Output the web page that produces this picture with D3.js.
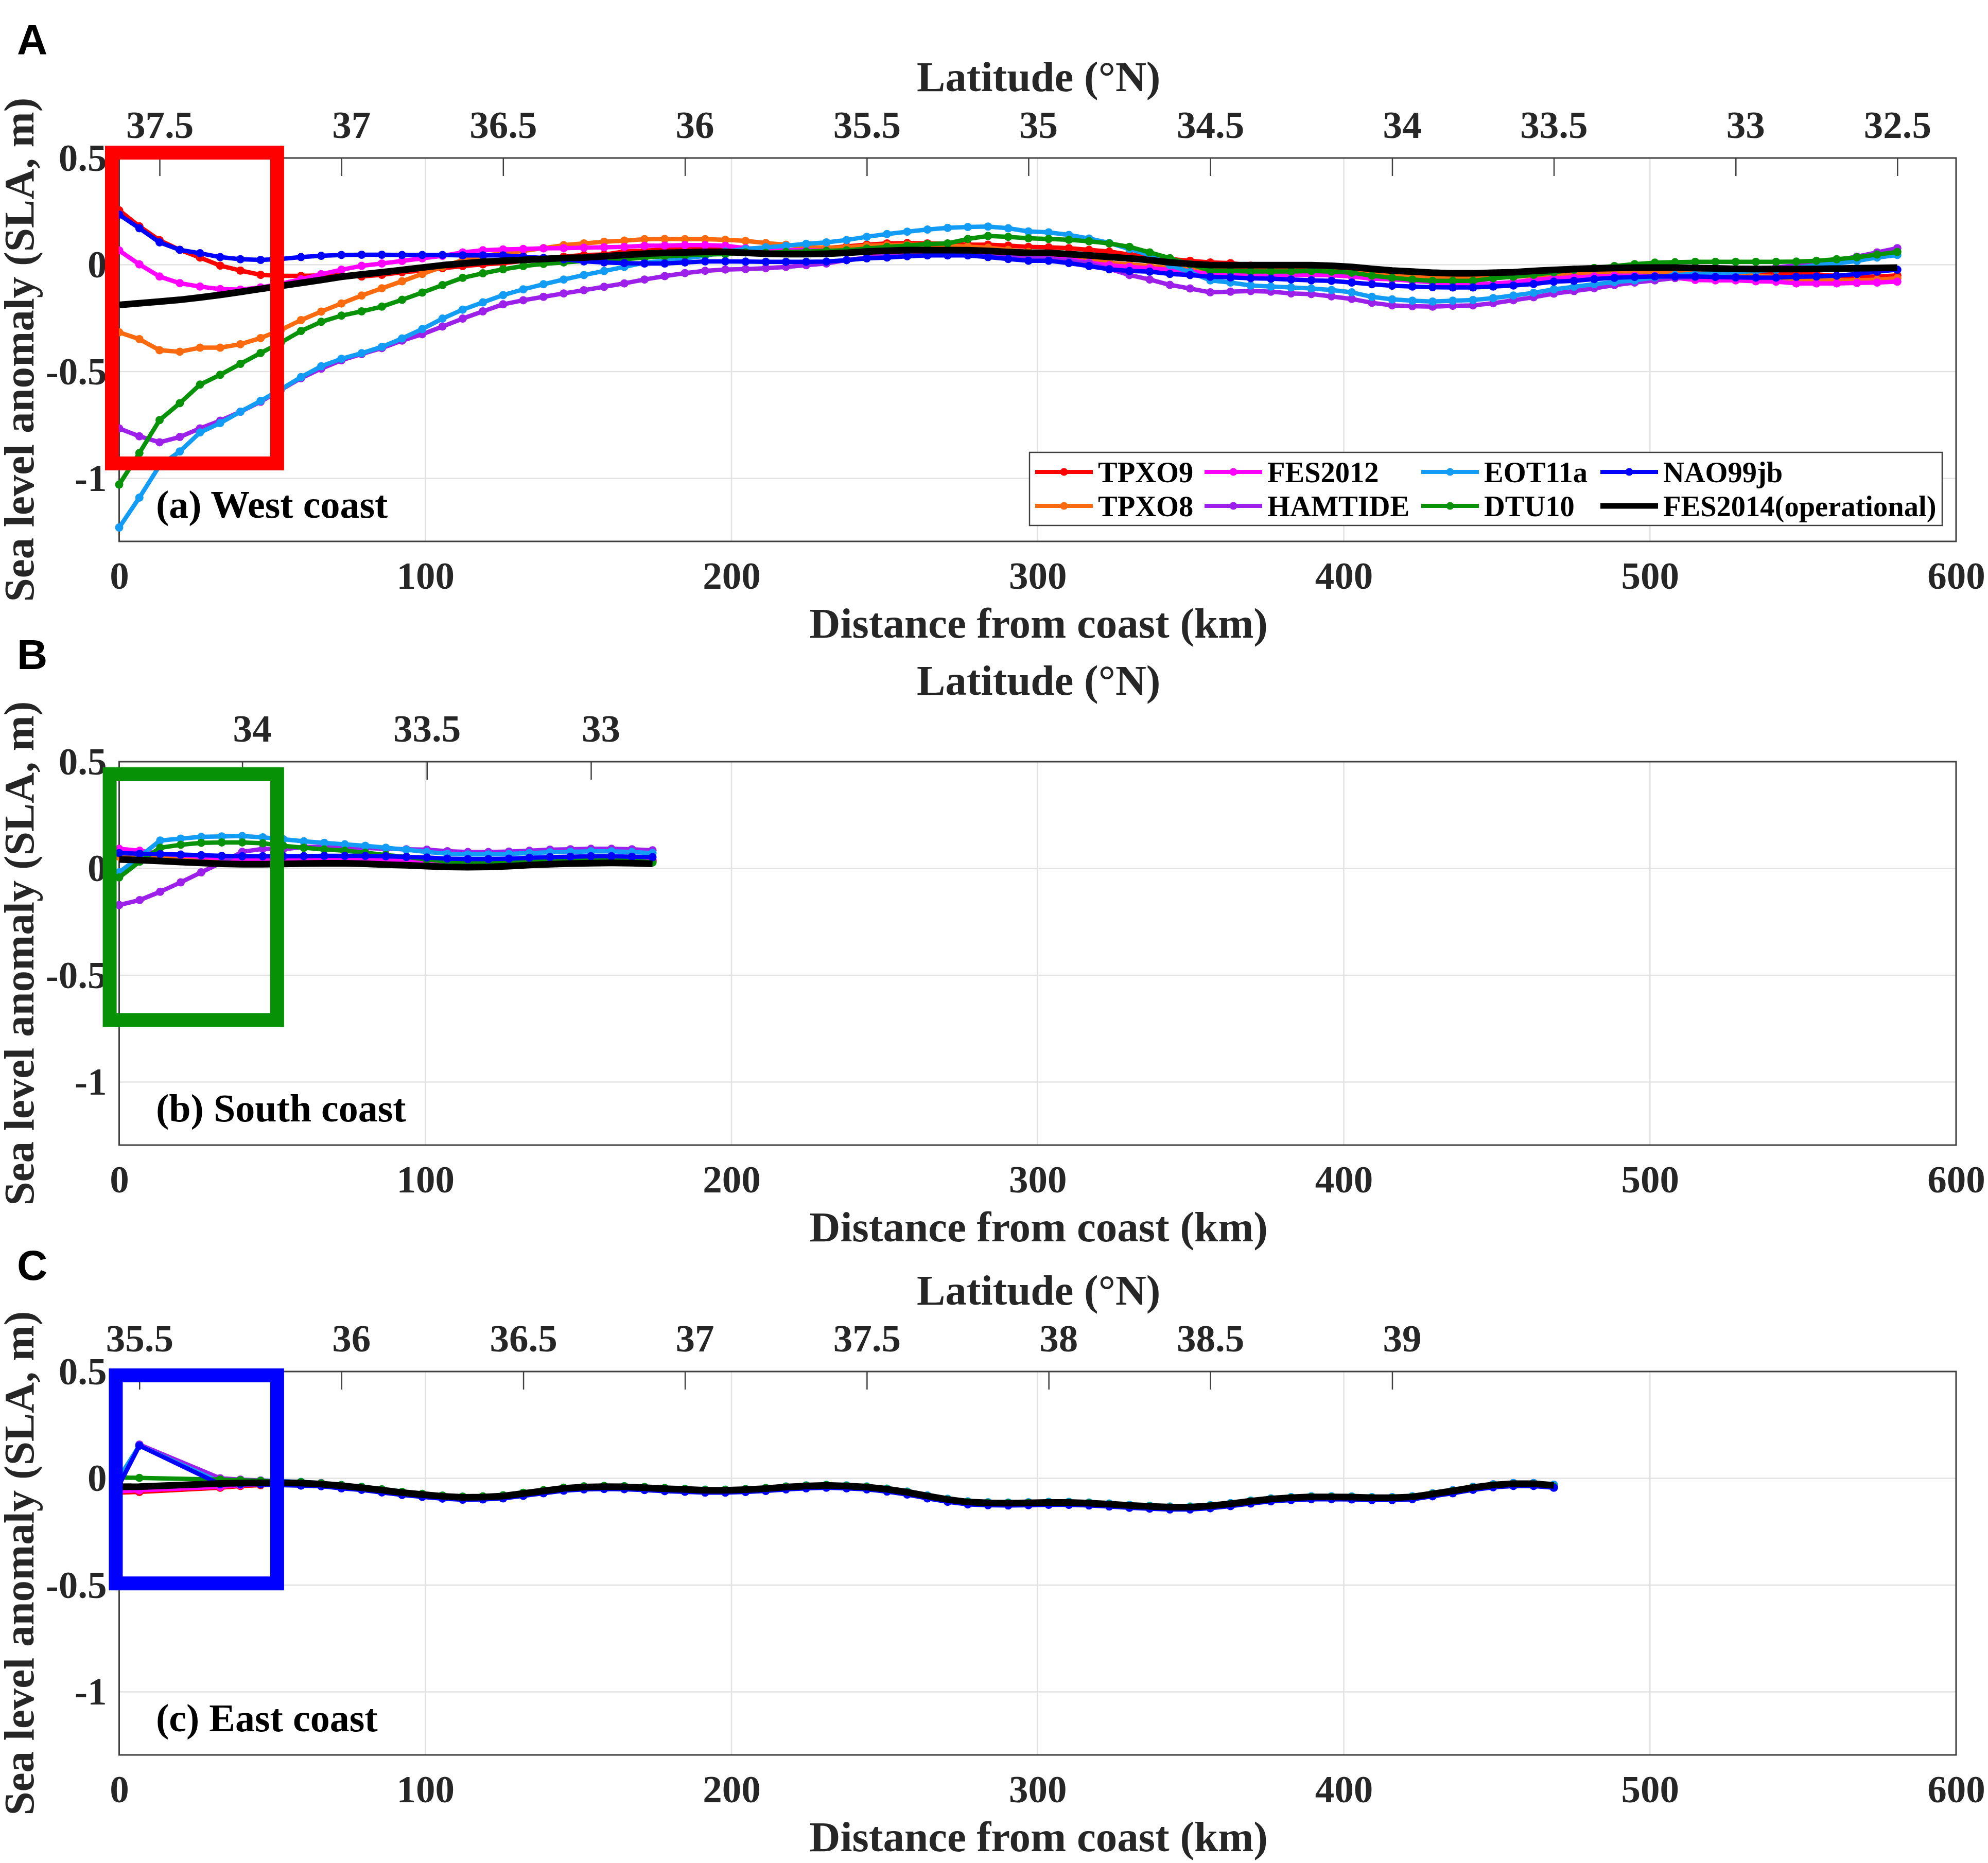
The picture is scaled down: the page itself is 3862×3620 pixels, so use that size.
<!DOCTYPE html>
<html>
<head>
<meta charset="utf-8">
<script src="https://cdn.jsdelivr.net/npm/d3@7"></script>
<style>
  body { margin: 0; background: #fff; }
  text { font-family: "Liberation Serif", serif; font-weight: bold; }
</style>
</head>
<body>
<div id="chart"></div>
<script>
/* model names and colours, in drawing order */
const modelNames = ['TPXO9', 'TPXO8', 'FES2012', 'HAMTIDE', 'EOT11a', 'DTU10', 'NAO99jb', 'FES2014(operational)'];
const modelColors = ['#ff0000', '#fb6a0e', '#ff00ff', '#9d20ea', '#129cf6', '#079207', '#0000ff', '#000000'];

const yTicks = [0.5, 0, -0.5, -1];
const xTicks = [0, 100, 200, 300, 400, 500, 600];

/* West coast */
const westKm = [0, 6.6, 13.2, 19.8, 26.4, 33, 39.6, 46.2, 52.8, 59.4,
  66, 72.6, 79.2, 85.8, 92.4, 99, 105.6, 112.2, 118.8, 125.4,
  132, 138.6, 145.2, 151.8, 158.4, 165, 171.6, 178.2, 184.8, 191.4,
  198, 204.6, 211.2, 217.8, 224.4, 231, 237.6, 244.2, 250.8, 257.4,
  264, 270.6, 277.2, 283.8, 290.4, 297, 303.6, 310.2, 316.8, 323.4,
  330, 336.6, 343.2, 349.8, 356.4, 363, 369.6, 376.2, 382.8, 389.4,
  396, 402.6, 409.2, 415.8, 422.4, 429, 435.6, 442.2, 448.8, 455.4,
  462, 468.6, 475.2, 481.8, 488.4, 495, 501.6, 508.2, 514.8, 521.4,
  528, 534.6, 541.2, 547.8, 554.4, 561, 567.6, 574.2, 580.8];
const westTpxo9 = [0.255, 0.18, 0.115, 0.07, 0.034, -0.004, -0.027, -0.047, -0.052, -0.052,
  -0.05, -0.05, -0.055, -0.047, -0.035, -0.027, -0.016, -0.006, 0.002, 0.008,
  0.018, 0.026, 0.038, 0.046, 0.048, 0.062, 0.066, 0.073, 0.077, 0.08,
  0.074, 0.07, 0.062, 0.066, 0.07, 0.078, 0.086, 0.094, 0.1, 0.102,
  0.1, 0.098, 0.094, 0.094, 0.09, 0.084, 0.082, 0.078, 0.07, 0.062,
  0.048, 0.038, 0.027, 0.019, 0.011, 0.008, -0.004, -0.01, -0.012, -0.012,
  -0.015, -0.02, -0.03, -0.04, -0.05, -0.052, -0.052, -0.05, -0.045, -0.042,
  -0.04, -0.037, -0.035, -0.033, -0.032, -0.03, -0.03, -0.032, -0.035, -0.037,
  -0.039, -0.04, -0.042, -0.038, -0.045, -0.052, -0.056, -0.055, -0.05];
const westTpxo8 = [-0.316, -0.348, -0.4, -0.407, -0.388, -0.388, -0.372, -0.343, -0.305, -0.259,
  -0.219, -0.181, -0.144, -0.11, -0.077, -0.043, -0.01, 0.022, 0.042, 0.054,
  0.065, 0.078, 0.092, 0.1, 0.108, 0.113, 0.12, 0.121, 0.12, 0.12,
  0.117, 0.112, 0.102, 0.094, 0.082, 0.081, 0.082, 0.089, 0.092, 0.094,
  0.094, 0.09, 0.085, 0.08, 0.07, 0.06, 0.04, 0.034, 0.022, 0.01,
  0.002, -0.006, -0.015, -0.023, -0.027, -0.023, -0.021, -0.021, -0.021, -0.019,
  -0.023, -0.035, -0.045, -0.051, -0.056, -0.063, -0.065, -0.065, -0.06, -0.056,
  -0.052, -0.048, -0.045, -0.04, -0.039, -0.037, -0.035, -0.035, -0.037, -0.04,
  -0.045, -0.05, -0.058, -0.068, -0.072, -0.073, -0.072, -0.07, -0.063];
const westFes2012 = [0.067, 0.002, -0.055, -0.086, -0.102, -0.114, -0.116, -0.106, -0.089, -0.068,
  -0.044, -0.023, -0.005, 0.006, 0.018, 0.03, 0.042, 0.058, 0.068, 0.072,
  0.074, 0.077, 0.078, 0.08, 0.082, 0.084, 0.089, 0.09, 0.092, 0.092,
  0.089, 0.078, 0.072, 0.069, 0.068, 0.066, 0.062, 0.058, 0.056, 0.056,
  0.054, 0.052, 0.048, 0.044, 0.036, 0.034, 0.034, 0.027, 0.01, -0.002,
  -0.01, -0.016, -0.024, -0.032, -0.043, -0.048, -0.049, -0.049, -0.048, -0.048,
  -0.049, -0.055, -0.065, -0.068, -0.075, -0.082, -0.09, -0.09, -0.087, -0.081,
  -0.071, -0.063, -0.059, -0.055, -0.051, -0.051, -0.053, -0.061, -0.071, -0.073,
  -0.073, -0.077, -0.079, -0.087, -0.087, -0.087, -0.085, -0.083, -0.079];
const westHamtide = [-0.766, -0.803, -0.831, -0.806, -0.766, -0.73, -0.688, -0.641, -0.585, -0.531,
  -0.486, -0.447, -0.418, -0.39, -0.355, -0.325, -0.289, -0.252, -0.218, -0.185,
  -0.166, -0.15, -0.134, -0.119, -0.103, -0.087, -0.069, -0.053, -0.039, -0.028,
  -0.022, -0.02, -0.016, -0.01, -0.002, 0.006, 0.022, 0.034, 0.042, 0.046,
  0.048, 0.048, 0.046, 0.044, 0.04, 0.034, 0.027, 0.019, 0.006, -0.019,
  -0.048, -0.069, -0.094, -0.111, -0.129, -0.126, -0.123, -0.126, -0.134, -0.137,
  -0.148, -0.16, -0.178, -0.19, -0.194, -0.196, -0.192, -0.19, -0.18, -0.166,
  -0.152, -0.135, -0.123, -0.11, -0.095, -0.083, -0.073, -0.062, -0.058, -0.048,
  -0.034, -0.022, -0.012, -0.003, 0.01, 0.022, 0.038, 0.058, 0.078];
const westEot11a = [-1.23, -1.09, -0.94, -0.874, -0.785, -0.741, -0.688, -0.637, -0.583, -0.526,
  -0.475, -0.44, -0.414, -0.384, -0.345, -0.301, -0.252, -0.21, -0.176, -0.142,
  -0.115, -0.091, -0.069, -0.048, -0.029, -0.01, 0.01, 0.019, 0.03, 0.042,
  0.062, 0.074, 0.082, 0.089, 0.098, 0.105, 0.116, 0.131, 0.144, 0.155,
  0.165, 0.173, 0.177, 0.179, 0.171, 0.156, 0.152, 0.14, 0.123, 0.102,
  0.074, 0.046, -0.002, -0.035, -0.073, -0.083, -0.097, -0.102, -0.106, -0.111,
  -0.118, -0.129, -0.15, -0.162, -0.168, -0.172, -0.168, -0.165, -0.156, -0.144,
  -0.131, -0.115, -0.103, -0.091, -0.081, -0.073, -0.059, -0.048, -0.043, -0.039,
  -0.035, -0.029, -0.023, -0.015, -0.002, 0.006, 0.018, 0.034, 0.046];
const westDtu10 = [-1.029, -0.881, -0.727, -0.648, -0.561, -0.515, -0.464, -0.413, -0.364, -0.31,
  -0.267, -0.238, -0.218, -0.196, -0.164, -0.13, -0.095, -0.061, -0.04, -0.021,
  -0.006, 0.004, 0.011, 0.018, 0.022, 0.026, 0.034, 0.04, 0.044, 0.048,
  0.05, 0.058, 0.056, 0.06, 0.062, 0.065, 0.068, 0.076, 0.084, 0.09,
  0.097, 0.1, 0.121, 0.135, 0.131, 0.124, 0.121, 0.117, 0.11, 0.1,
  0.084, 0.058, 0.031, 0.002, -0.027, -0.029, -0.031, -0.031, -0.031, -0.029,
  -0.032, -0.037, -0.051, -0.061, -0.069, -0.075, -0.075, -0.075, -0.063, -0.056,
  -0.047, -0.035, -0.023, -0.015, -0.006, 0.003, 0.01, 0.012, 0.014, 0.014,
  0.014, 0.014, 0.014, 0.015, 0.019, 0.026, 0.035, 0.048, 0.06];
const westNao99jb = [0.235, 0.171, 0.105, 0.07, 0.054, 0.036, 0.026, 0.023, 0.027, 0.036,
  0.042, 0.046, 0.047, 0.047, 0.046, 0.046, 0.046, 0.044, 0.044, 0.044,
  0.038, 0.032, 0.026, 0.016, 0.011, 0.008, 0.006, 0.006, 0.011, 0.016,
  0.016, 0.015, 0.014, 0.014, 0.014, 0.015, 0.022, 0.03, 0.034, 0.04,
  0.044, 0.044, 0.044, 0.036, 0.027, 0.019, 0.019, 0.008, -0.006, -0.021,
  -0.029, -0.032, -0.043, -0.048, -0.056, -0.059, -0.063, -0.065, -0.069, -0.073,
  -0.075, -0.083, -0.091, -0.098, -0.102, -0.105, -0.106, -0.106, -0.102, -0.097,
  -0.09, -0.079, -0.075, -0.067, -0.061, -0.057, -0.055, -0.055, -0.055, -0.057,
  -0.059, -0.06, -0.06, -0.056, -0.055, -0.051, -0.043, -0.032, -0.023];
const westFes2014 = [-0.188, -0.18, -0.172, -0.164, -0.153, -0.141, -0.127, -0.113, -0.099, -0.085,
  -0.071, -0.056, -0.045, -0.035, -0.024, -0.013, -0.002, 0.006, 0.014, 0.019,
  0.023, 0.027, 0.032, 0.034, 0.04, 0.046, 0.052, 0.056, 0.058, 0.06,
  0.06, 0.056, 0.052, 0.05, 0.05, 0.052, 0.056, 0.062, 0.066, 0.069,
  0.069, 0.069, 0.068, 0.065, 0.06, 0.056, 0.056, 0.05, 0.044, 0.037,
  0.03, 0.022, 0.011, 0.004, -0.001, -0.002, -0.002, -0.002, -0.002, -0.002,
  -0.005, -0.01, -0.019, -0.027, -0.032, -0.037, -0.04, -0.04, -0.037, -0.035,
  -0.029, -0.024, -0.02, -0.017, -0.015, -0.013, -0.013, -0.013, -0.015, -0.017,
  -0.019, -0.02, -0.02, -0.02, -0.019, -0.018, -0.016, -0.015, -0.013];
const westLatKm = [13.2, 72.6, 125.4, 184.8, 244.2, 297, 356.4, 415.8, 468.6, 528, 580.8];
const westLat = ['37.5', '37', '36.5', '36', '35.5', '35', '34.5', '34', '33.5', '33', '32.5'];

/* South coast */
const southKm = [0, 6.7, 13.4, 20.1, 26.8, 33.5, 40.2, 46.9, 53.6, 60.3, 67, 73.7, 80.4, 87.1,
  93.8, 100.5, 107.2, 113.9, 120.6, 127.3, 134, 140.7, 147.4, 154.1, 160.8, 167.5, 174.2];
const southTpxo9 = [0.07, 0.068, 0.062, 0.06, 0.055, 0.05, 0.048, 0.048, 0.048, 0.046, 0.046, 0.046, 0.044, 0.042,
  0.036, 0.03, 0.025, 0.024, 0.025, 0.03, 0.036, 0.042, 0.046, 0.048, 0.05, 0.046, 0.04];
const southTpxo8 = [0.055, 0.052, 0.048, 0.044, 0.04, 0.036, 0.033, 0.032, 0.033, 0.035, 0.036, 0.036, 0.034, 0.03,
  0.026, 0.022, 0.018, 0.017, 0.018, 0.022, 0.028, 0.032, 0.036, 0.038, 0.038, 0.036, 0.032];
const southFes2012 = [0.092, 0.083, 0.069, 0.062, 0.054, 0.048, 0.044, 0.044, 0.046, 0.048, 0.048, 0.046, 0.044, 0.042,
  0.035, 0.028, 0.023, 0.021, 0.023, 0.028, 0.035, 0.041, 0.044, 0.046, 0.046, 0.042, 0.035];
const southHamtide = [-0.171, -0.148, -0.109, -0.065, -0.018, 0.028, 0.078, 0.092, 0.09, 0.101, 0.101, 0.1, 0.096, 0.092,
  0.09, 0.088, 0.081, 0.077, 0.077, 0.079, 0.083, 0.088, 0.09, 0.092, 0.092, 0.09, 0.085];
const southEot11a = [-0.018, 0.055, 0.131, 0.14, 0.148, 0.15, 0.152, 0.146, 0.137, 0.127, 0.12, 0.113, 0.106, 0.097,
  0.088, 0.077, 0.069, 0.066, 0.066, 0.068, 0.072, 0.076, 0.078, 0.08, 0.08, 0.077, 0.072];
const southDtu10 = [-0.042, 0.032, 0.097, 0.111, 0.12, 0.122, 0.122, 0.118, 0.106, 0.097, 0.089, 0.083, 0.074, 0.063,
  0.054, 0.042, 0.032, 0.028, 0.028, 0.032, 0.039, 0.044, 0.048, 0.048, 0.046, 0.039, 0.028];
const southNao99jb = [0.072, 0.069, 0.067, 0.065, 0.062, 0.059, 0.057, 0.057, 0.057, 0.058, 0.059, 0.059, 0.059, 0.057,
  0.054, 0.051, 0.046, 0.044, 0.044, 0.046, 0.05, 0.053, 0.055, 0.057, 0.057, 0.055, 0.053];
const southFes2014 = [0.042, 0.039, 0.035, 0.03, 0.026, 0.022, 0.02, 0.02, 0.021, 0.023, 0.024, 0.024, 0.022, 0.018,
  0.015, 0.011, 0.007, 0.006, 0.007, 0.011, 0.016, 0.02, 0.023, 0.025, 0.026, 0.025, 0.022];
const southLatKm = [40.2, 100.5, 154.1];
const southLat = ['34', '33.5', '33'];

/* East coast, three track points are missing after the second one */
const eastKm = [0, 6.6, 33, 39.6, 46.2, 52.8, 59.4, 66, 72.6, 79.2, 85.8, 92.4,
  99, 105.6, 112.2, 118.8, 125.4, 132, 138.6, 145.2, 151.8, 158.4, 165, 171.6, 178.2, 184.8, 191.4,
  198, 204.6, 211.2, 217.8, 224.4, 231, 237.6, 244.2, 250.8, 257.4, 264, 270.6, 277.2, 283.8, 290.4,
  297, 303.6, 310.2, 316.8, 323.4, 330, 336.6, 343.2, 349.8, 356.4, 363, 369.6, 376.2, 382.8, 389.4,
  396, 402.6, 409.2, 415.8, 422.4, 429, 435.6, 442.2, 448.8, 455.4, 462, 468.6];
const eastTpxo9 = [-0.067, -0.064, -0.044, -0.036, -0.032, -0.028, -0.028, -0.033, -0.041, -0.05, -0.061, -0.073,
  -0.082, -0.09, -0.095, -0.094, -0.089, -0.077, -0.065, -0.053, -0.047, -0.045, -0.046, -0.05, -0.055, -0.058, -0.062,
  -0.062, -0.059, -0.054, -0.047, -0.042, -0.039, -0.042, -0.047, -0.057, -0.071, -0.089, -0.105, -0.117, -0.122, -0.123,
  -0.122, -0.12, -0.12, -0.123, -0.128, -0.134, -0.138, -0.142, -0.142, -0.136, -0.125, -0.113, -0.103, -0.097, -0.093,
  -0.093, -0.094, -0.097, -0.097, -0.092, -0.078, -0.064, -0.048, -0.036, -0.03, -0.03, -0.038];
const eastTpxo8 = [-0.048, -0.046, -0.036, -0.028, -0.022, -0.022, -0.02, -0.022, -0.036, -0.046, -0.057, -0.069,
  -0.079, -0.087, -0.092, -0.091, -0.086, -0.074, -0.062, -0.05, -0.044, -0.042, -0.043, -0.047, -0.052, -0.055, -0.059,
  -0.059, -0.056, -0.051, -0.044, -0.039, -0.036, -0.039, -0.044, -0.054, -0.068, -0.086, -0.102, -0.114, -0.118, -0.119,
  -0.118, -0.116, -0.116, -0.119, -0.124, -0.13, -0.134, -0.138, -0.138, -0.132, -0.122, -0.11, -0.1, -0.094, -0.09,
  -0.09, -0.091, -0.094, -0.094, -0.09, -0.076, -0.062, -0.046, -0.034, -0.028, -0.028, -0.036];
const eastFes2012 = [-0.06, -0.056, -0.04, -0.032, -0.026, -0.024, -0.02, -0.022, -0.034, -0.044, -0.055, -0.067,
  -0.076, -0.084, -0.09, -0.089, -0.083, -0.071, -0.059, -0.047, -0.04, -0.039, -0.04, -0.044, -0.049, -0.052, -0.056,
  -0.056, -0.053, -0.048, -0.041, -0.036, -0.033, -0.036, -0.041, -0.051, -0.065, -0.083, -0.099, -0.112, -0.116, -0.117,
  -0.116, -0.114, -0.114, -0.117, -0.122, -0.128, -0.132, -0.136, -0.136, -0.13, -0.12, -0.107, -0.097, -0.091, -0.087,
  -0.087, -0.088, -0.091, -0.091, -0.086, -0.072, -0.057, -0.041, -0.029, -0.023, -0.023, -0.031];
const eastHamtide = [-0.03, 0.158, 0, -0.006, -0.01, -0.014, -0.018, -0.024, -0.033, -0.043, -0.054, -0.066,
  -0.075, -0.083, -0.088, -0.087, -0.082, -0.07, -0.058, -0.046, -0.04, -0.038, -0.039, -0.043, -0.048, -0.051, -0.055,
  -0.055, -0.052, -0.047, -0.04, -0.035, -0.032, -0.035, -0.04, -0.05, -0.064, -0.082, -0.098, -0.11, -0.114, -0.115,
  -0.114, -0.112, -0.112, -0.115, -0.12, -0.126, -0.13, -0.134, -0.134, -0.128, -0.118, -0.106, -0.096, -0.09, -0.086,
  -0.086, -0.087, -0.09, -0.09, -0.085, -0.071, -0.056, -0.04, -0.028, -0.022, -0.022, -0.03];
const eastEot11a = [0.004, 0.153, -0.018, -0.014, -0.012, -0.014, -0.017, -0.023, -0.031, -0.04, -0.052, -0.064,
  -0.073, -0.081, -0.086, -0.085, -0.08, -0.068, -0.056, -0.044, -0.038, -0.036, -0.037, -0.041, -0.046, -0.049, -0.053,
  -0.053, -0.05, -0.045, -0.038, -0.033, -0.03, -0.033, -0.038, -0.048, -0.062, -0.08, -0.096, -0.108, -0.112, -0.113,
  -0.112, -0.11, -0.11, -0.113, -0.118, -0.124, -0.128, -0.132, -0.132, -0.126, -0.116, -0.104, -0.094, -0.088, -0.084,
  -0.084, -0.085, -0.088, -0.088, -0.084, -0.07, -0.056, -0.04, -0.028, -0.022, -0.022, -0.03];
const eastDtu10 = [0.004, 0.002, -0.006, -0.009, -0.012, -0.016, -0.018, -0.024, -0.032, -0.041, -0.052, -0.064,
  -0.073, -0.081, -0.086, -0.085, -0.08, -0.068, -0.056, -0.044, -0.038, -0.036, -0.037, -0.041, -0.046, -0.05, -0.054,
  -0.054, -0.051, -0.046, -0.039, -0.034, -0.032, -0.036, -0.041, -0.052, -0.066, -0.084, -0.1, -0.112, -0.116, -0.117,
  -0.116, -0.114, -0.114, -0.117, -0.122, -0.128, -0.132, -0.136, -0.136, -0.13, -0.12, -0.108, -0.098, -0.092, -0.088,
  -0.088, -0.089, -0.092, -0.092, -0.088, -0.074, -0.06, -0.044, -0.033, -0.028, -0.029, -0.04];
const eastNao99jb = [-0.03, 0.153, -0.028, -0.028, -0.028, -0.032, -0.034, -0.037, -0.047, -0.054, -0.066, -0.078,
  -0.087, -0.095, -0.1, -0.099, -0.094, -0.082, -0.07, -0.058, -0.052, -0.05, -0.051, -0.055, -0.06, -0.063, -0.067,
  -0.067, -0.064, -0.059, -0.052, -0.047, -0.044, -0.047, -0.052, -0.062, -0.076, -0.094, -0.11, -0.122, -0.126, -0.127,
  -0.126, -0.124, -0.124, -0.127, -0.132, -0.138, -0.142, -0.146, -0.146, -0.14, -0.13, -0.118, -0.108, -0.102, -0.098,
  -0.098, -0.099, -0.102, -0.102, -0.098, -0.084, -0.07, -0.054, -0.042, -0.036, -0.036, -0.044];
const eastFes2014 = [-0.04, -0.039, -0.024, -0.022, -0.021, -0.021, -0.022, -0.027, -0.035, -0.044, -0.055, -0.067,
  -0.076, -0.084, -0.089, -0.088, -0.083, -0.071, -0.059, -0.047, -0.041, -0.039, -0.04, -0.044, -0.049, -0.052, -0.056,
  -0.056, -0.053, -0.048, -0.041, -0.036, -0.033, -0.036, -0.041, -0.051, -0.065, -0.083, -0.099, -0.111, -0.115, -0.116,
  -0.115, -0.113, -0.113, -0.116, -0.121, -0.127, -0.131, -0.135, -0.135, -0.129, -0.119, -0.107, -0.097, -0.091, -0.087,
  -0.087, -0.088, -0.091, -0.091, -0.087, -0.073, -0.059, -0.043, -0.031, -0.025, -0.025, -0.033];
const eastLatKm = [6.6, 72.6, 132, 184.8, 244.2, 303.6, 356.4, 415.8];
const eastLat = ['35.5', '36', '36.5', '37', '37.5', '38', '38.5', '39'];

/* Page layout */
const plotLeft = 231.5;
const plotRight = 3800;
const plotHeight = 745;
const tickFont = 75;
const titleFont = 83;

const svg = d3.select('#chart')
  .append('svg')
  .attr('width', 3862)
  .attr('height', 3620)
  .style('display', 'block');

const x = d3.scaleLinear().domain([0, 600]).range([plotLeft, plotRight]);
const y = d3.scaleLinear().domain([0.5, -1.295]).range([0, plotHeight]);

const line = d3.line()
  .x(function (d) { return x(d[0]); })
  .y(function (d) { return y(d[1]); });

/** Draws one coast panel: grid, frame, both x axes, the model lines and the highlight box. */
function drawPanel (p) {
  const g = svg.append('g').attr('transform', 'translate(0,' + p.top + ')');

  /* light grid */
  g.append('g')
    .selectAll('line')
    .data(xTicks.slice(1, -1))
    .enter()
    .append('line')
    .attr('x1', function (d) { return x(d); })
    .attr('x2', function (d) { return x(d); })
    .attr('y1', 0)
    .attr('y2', plotHeight)
    .attr('stroke', '#e2e2e2')
    .attr('stroke-width', 2.5);
  g.append('g')
    .selectAll('line')
    .data(yTicks.slice(1))
    .enter()
    .append('line')
    .attr('x1', plotLeft)
    .attr('x2', plotRight)
    .attr('y1', function (d) { return y(d); })
    .attr('y2', function (d) { return y(d); })
    .attr('stroke', '#e2e2e2')
    .attr('stroke-width', 2.5);

  /* bottom axis */
  const bottom = g.append('g')
    .attr('transform', 'translate(0,' + plotHeight + ')')
    .call(d3.axisBottom(x).tickValues(xTicks).tickSize(0).tickPadding(39).tickFormat(String));
  bottom.selectAll('text').attr('font-size', tickFont).attr('fill', '#262626');
  bottom.select('.domain').attr('stroke', 'none');

  /* left axis */
  const left = g.append('g')
    .attr('transform', 'translate(' + plotLeft + ',0)')
    .call(d3.axisLeft(y).tickValues(yTicks).tickSize(0).tickPadding(24).tickFormat(String));
  left.selectAll('text').attr('font-size', tickFont).attr('fill', '#262626');
  left.select('.domain').attr('stroke', 'none');

  /* latitude axis on top, whole degrees sit a little to the right of their tick */
  const top = g.append('g')
    .call(d3.axisTop(x)
      .tickValues(p.latKm)
      .tickSize(-35)
      .tickPadding(39)
      .tickFormat(function (d, i) { return p.lat[i]; }));
  top.select('.domain').attr('stroke', 'none');
  top.selectAll('line').attr('stroke', '#404040').attr('stroke-width', 2.5);
  top.selectAll('text')
    .attr('font-size', tickFont)
    .attr('fill', '#262626')
    .attr('dx', function (d, i) { return p.lat[i].indexOf('.') < 0 ? 19 : 0; });

  /* frame */
  g.append('rect')
    .attr('x', plotLeft)
    .attr('y', 0)
    .attr('width', plotRight - plotLeft)
    .attr('height', plotHeight)
    .attr('fill', 'none')
    .attr('stroke', '#404040')
    .attr('stroke-width', 3);

  /* model lines, FES2014 has no markers and sits on top */
  p.series.forEach(function (values, s) {
    const pts = values.map(function (v, i) { return [p.km[i], v]; });
    const isOperational = s === modelNames.length - 1;
    g.append('path')
      .datum(pts)
      .attr('d', line)
      .attr('fill', 'none')
      .attr('stroke', modelColors[s])
      .attr('stroke-width', isOperational ? 13 : 8.5)
      .attr('stroke-linejoin', 'round');
    if (!isOperational) {
      g.append('g')
        .selectAll('circle')
        .data(pts)
        .enter()
        .append('circle')
        .attr('cx', function (d) { return x(d[0]); })
        .attr('cy', function (d) { return y(d[1]); })
        .attr('r', 8)
        .attr('fill', modelColors[s]);
    }
  });

  /* coast name */
  g.append('text')
    .attr('x', 303)
    .attr('y', plotHeight - 46)
    .attr('font-size', 76)
    .attr('fill', '#000')
    .text(p.name);

  /* axis titles */
  g.append('text')
    .attr('x', (plotLeft + plotRight) / 2 + 2)
    .attr('y', plotHeight + 187)
    .attr('text-anchor', 'middle')
    .attr('font-size', titleFont)
    .attr('fill', '#262626')
    .text('Distance from coast (km)');
  g.append('text')
    .attr('x', (plotLeft + plotRight) / 2 + 2)
    .attr('y', -130)
    .attr('text-anchor', 'middle')
    .attr('font-size', titleFont)
    .attr('fill', '#262626')
    .text('Latitude (°N)');
  g.append('text')
    .attr('transform', 'translate(65,' + plotHeight / 2 + ') rotate(-90)')
    .attr('text-anchor', 'middle')
    .attr('font-size', titleFont)
    .attr('fill', '#262626')
    .text('Sea level anomaly (SLA, m)');

  /* highlight box near the coast */
  g.append('rect')
    .attr('x', x(p.box[0]))
    .attr('y', y(p.box[1]))
    .attr('width', x(p.box[2]) - x(p.box[0]))
    .attr('height', y(p.box[3]) - y(p.box[1]))
    .attr('fill', 'none')
    .attr('stroke', p.boxColor)
    .attr('stroke-width', 27);

  /* panel letter */
  svg.append('text')
    .attr('x', 33)
    .attr('y', p.letterY)
    .attr('font-size', 82)
    .attr('fill', '#000')
    .style('font-family', '"Liberation Sans", sans-serif')
    .text(p.letter);
}

drawPanel({
  top: 307,
  letter: 'A',
  letterY: 105,
  name: '(a) West coast',
  km: westKm,
  series: [westTpxo9, westTpxo8, westFes2012, westHamtide, westEot11a, westDtu10, westNao99jb, westFes2014],
  latKm: westLatKm,
  lat: westLat,
  box: [-2.36, 0.525, 51.6, -0.93],
  boxColor: '#ff0000'
});
drawPanel({
  top: 1480,
  letter: 'B',
  letterY: 1300,
  name: '(b) South coast',
  km: southKm,
  series: [southTpxo9, southTpxo8, southFes2012, southHamtide, southEot11a, southDtu10, southNao99jb, southFes2014],
  latKm: southLatKm,
  lat: southLat,
  box: [-3.1, 0.441, 51.6, -0.71],
  boxColor: '#079107'
});
drawPanel({
  top: 2665,
  letter: 'C',
  letterY: 2487,
  name: '(c) East coast',
  km: eastKm,
  series: [eastTpxo9, eastTpxo8, eastFes2012, eastHamtide, eastEot11a, eastDtu10, eastNao99jb, eastFes2014],
  latKm: eastLatKm,
  lat: eastLat,
  box: [-1.1, 0.482, 51.6, -0.492],
  boxColor: '#0000ff'
});

/* legend in the west coast panel, columns run top to bottom */
const legendCols = [2011, 2340, 2761, 3109];
const legendRows = [917, 983];
const legend = svg.append('g');
legend.append('rect')
  .attr('x', 2000)
  .attr('y', 879)
  .attr('width', 1773)
  .attr('height', 142)
  .attr('fill', '#fff')
  .attr('stroke', '#404040')
  .attr('stroke-width', 2.5);
modelNames.forEach(function (name, i) {
  const lx = legendCols[Math.floor(i / 2)];
  const ly = legendRows[i % 2];
  const isOperational = i === modelNames.length - 1;
  legend.append('line')
    .attr('x1', lx)
    .attr('x2', lx + 112)
    .attr('y1', ly)
    .attr('y2', ly)
    .attr('stroke', modelColors[i])
    .attr('stroke-width', isOperational ? 11 : 8);
  if (!isOperational) {
    legend.append('circle')
      .attr('cx', lx + 56)
      .attr('cy', ly)
      .attr('r', 7.5)
      .attr('fill', modelColors[i]);
  }
  legend.append('text')
    .attr('x', lx + 122)
    .attr('y', ly + 20)
    .attr('font-size', 56.5)
    .attr('fill', '#000')
    .text(name);
});
</script>
</body>
</html>
